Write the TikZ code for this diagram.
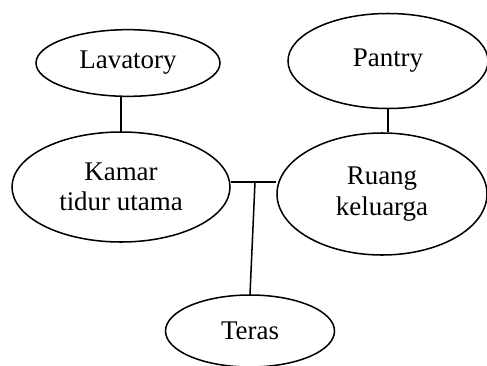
\documentclass[tikz,border=0pt]{standalone}
\usepackage{fontspec}
\setmainfont{Liberation Serif}
\usepackage{tikz}
\usetikzlibrary{positioning,calc,shapes,shapes.geometric}
\tikzset{
	room/.style={draw, ellipse, line width=1.3pt, inner sep=0pt, align=center,
		font=\fontsize{23}{26}\selectfont}
}
\newcommand{\hubung}[2]
{
	\path [draw, line width=1.3pt] (#1) -- (#2);
}
\newcommand{\ruangan}[5][]{
	\node [room, minimum width=#4, minimum height=#5] (#1) at (#2) {#3};
}

\begin{document}
\begin{tikzpicture}[x=0.03cm, y=-0.03cm]
		\useasboundingbox (0,0) rectangle (487,365);
		\ruangan[lav]{128,63}{Lavatory}{5.52cm}{2.0cm}
		\ruangan[pantry]{388,61}{Pantry}{6.0cm}{2.85cm}
		\ruangan[kamar]{121,187}{Kamar\\tidur utama}{6.54cm}{3.3cm}
		\ruangan[keluarga]{382,194}{Ruang\\keluarga}{6.3cm}{3.66cm}
		\ruangan[teras]{250,331}{Teras}{5.07cm}{2.16cm}
		\coordinate (simpul) at (255,182);
		%	connectors
		\hubung{kamar.north}{kamar.north |- lav.south}
		\hubung{pantry.south}{pantry.south |- keluarga.north}
		\hubung{simpul -| kamar.east}{simpul -| keluarga.west}
		\hubung{simpul}{teras.north}
\end{tikzpicture}
\end{document}
